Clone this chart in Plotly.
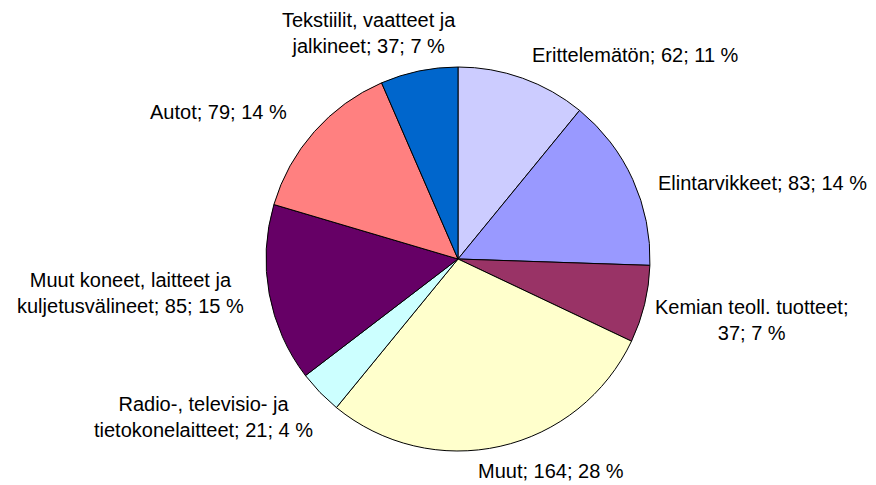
import plotly.graph_objects as go

# Data (clockwise from 12 o'clock)
categories = [
    "Erittelemätön",
    "Elintarvikkeet",
    "Kemian teoll. tuotteet",
    "Muut",
    "Radio-, televisio- ja tietokonelaitteet",
    "Muut koneet, laitteet ja kuljetusvälineet",
    "Autot",
    "Tekstiilit, vaatteet ja jalkineet",
]
values = [62, 83, 37, 164, 21, 85, 79, 37]
percents = [11, 14, 7, 28, 4, 15, 14, 7]
label_lines = [
    ["Erittelemätön; {v}; {p} %"],
    ["Elintarvikkeet; {v}; {p} %"],
    ["Kemian teoll. tuotteet;", "{v}; {p} %"],
    ["Muut; {v}; {p} %"],
    ["Radio-, televisio- ja", "tietokonelaitteet; {v}; {p} %"],
    ["Muut koneet, laitteet ja", "kuljetusvälineet; {v}; {p} %"],
    ["Autot; {v}; {p} %"],
    ["Tekstiilit, vaatteet ja", "jalkineet; {v}; {p} %"],
]

# Styles / layout
colors = ["#CCCCFF", "#9999FF", "#993366", "#FFFFCC", "#CCFFFF", "#660066", "#FF8080", "#0066CC"]
W, H = 876, 485
cx, cy, r = 458, 259, 192
# label centres in pixels (layout only)
label_pos = [(635, 55), (762, 183), (751, 320), (551, 471), (203, 417), (130, 293), (218, 112), (369, 33)]

fig = go.Figure(go.Pie(
    labels=categories,
    values=values,
    sort=False,
    direction="clockwise",
    rotation=0,
    marker=dict(colors=colors, line=dict(color="black", width=1)),
    textinfo="none",
    hoverinfo="label+value+percent",
    domain=dict(x=[(cx - r) / W, (cx + r) / W], y=[(H - cy - r) / H, (H - cy + r) / H]),
    showlegend=False,
))

for lines, v, p, (px, py) in zip(label_lines, values, percents, label_pos):
    text = "<br>".join(l.format(v=v, p=p) for l in lines)
    fig.add_annotation(
        x=px / W, y=1 - py / H, xref="paper", yref="paper",
        text=text, showarrow=False, xanchor="center", yanchor="middle", align="center",
        font=dict(family="Liberation Sans, Arial, sans-serif", size=20, color="black"),
    )

fig.update_layout(
    width=W, height=H,
    margin=dict(l=0, r=0, t=0, b=0),
    paper_bgcolor="white", plot_bgcolor="white",
)
fig.write_html(
    "out.html",
    config={"displayModeBar": False},
    post_script="document.body.style.margin='0';document.body.style.overflow='hidden';",
)
